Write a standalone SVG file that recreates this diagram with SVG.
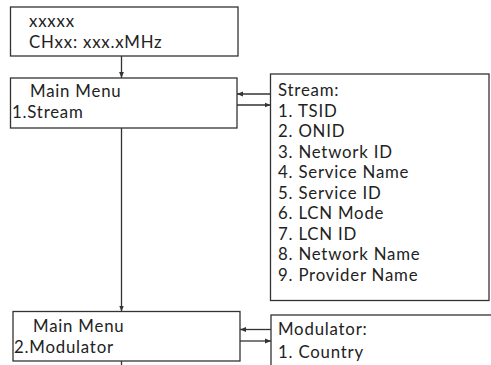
<svg xmlns="http://www.w3.org/2000/svg" width="491" height="365" viewBox="0 0 491 365">
<defs>
<marker id="ah" viewBox="0 0 10 10" refX="10" refY="5" markerWidth="6" markerHeight="6" markerUnits="userSpaceOnUse" orient="auto"><path d="M0,1 L10,5 L0,9 Z" fill="#333"/></marker>
<style>
.box{fill:#fff;stroke:#333;stroke-width:1.3}
.t{font-family:Lato,"Open Sans",sans-serif;font-size:16.8px;fill:#222;letter-spacing:0.8px}
.c{stroke:#333;stroke-width:1.3;fill:none;marker-end:url(#ah)}
.l{stroke:#333;stroke-width:1.3;fill:none}
</style>
</defs>
<g id="connectors">
<line class="c" x1="121.5" y1="56" x2="121.5" y2="78"/>
<line class="c" x1="121.5" y1="128" x2="121.5" y2="311.5"/>
<line class="l" x1="121.5" y1="361" x2="121.5" y2="365"/>
<line class="c" x1="270.5" y1="94" x2="237" y2="94"/>
<line class="c" x1="237" y1="105" x2="270.5" y2="105"/>
<line class="c" x1="271" y1="329.5" x2="240" y2="329.5"/>
<line class="c" x1="240" y1="341" x2="271" y2="341"/>
</g>
<g id="n1">
<rect class="box" x="10.5" y="7" width="227.5" height="49"/>
<text class="t" x="29" y="27">xxxxx</text>
<text class="t" x="29" y="48">CHxx: xxx.xMHz</text>
</g>
<g id="n2">
<rect class="box" x="10.5" y="78" width="226.5" height="50"/>
<text class="t" x="30" y="97">Main Menu</text>
<text class="t" x="12" y="118">1.Stream</text>
</g>
<g id="n3">
<rect class="box" x="270.5" y="74" width="218.5" height="226.5"/>
<text class="t" x="278" y="96">Stream:</text>
<text class="t" x="278" y="116.5">1. TSID</text>
<text class="t" x="278" y="137">2. ONID</text>
<text class="t" x="278" y="157.5">3. Network ID</text>
<text class="t" x="278" y="178">4. Service Name</text>
<text class="t" x="278" y="198.5">5. Service ID</text>
<text class="t" x="278" y="219">6. LCN Mode</text>
<text class="t" x="278" y="239.5">7. LCN ID</text>
<text class="t" x="278" y="260">8. Network Name</text>
<text class="t" x="278" y="280.5">9. Provider Name</text>
</g>
<g id="n4">
<rect class="box" x="13" y="311.5" width="227" height="49.5"/>
<text class="t" x="33" y="332">Main Menu</text>
<text class="t" x="14" y="353">2.Modulator</text>
</g>
<g id="n5">
<rect class="box" x="271" y="315" width="225" height="60"/>
<text class="t" x="278" y="335">Modulator:</text>
<text class="t" x="278" y="358">1. Country</text>
</g>
</svg>
